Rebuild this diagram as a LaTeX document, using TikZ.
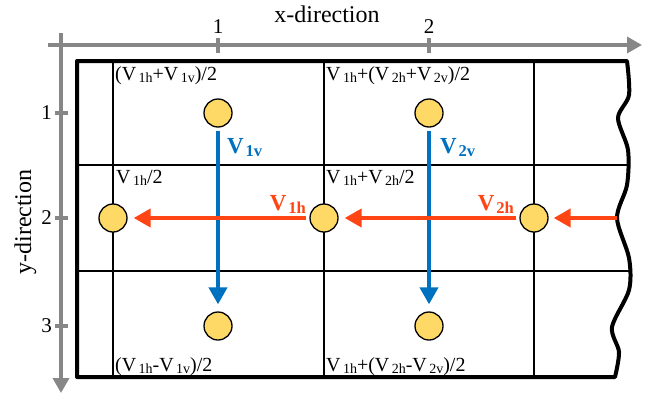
\documentclass[tikz,border=0pt]{standalone}
\usepackage{fontspec}
\setmainfont{Liberation Serif}
\usetikzlibrary{arrows.meta}
\definecolor{dotyellow}{RGB}{255,217,102}
\definecolor{vblue}{RGB}{0,112,192}
\definecolor{hred}{RGB}{255,69,20}
\definecolor{axisgray}{RGB}{135,135,135}
\newcommand{\sbs}[1]{\kern.12em\raisebox{-.25ex}{\scalebox{.7}{#1}}}
\newcommand{\bsbs}[1]{\kern.08em\raisebox{-.3ex}{\scalebox{.72}{#1}}}

\begin{document}
\begin{tikzpicture}[x=1pt,y=-1pt,
    dot/.style={circle,draw,line width=1.3pt,fill=dotyellow,minimum size=28pt,inner sep=0pt},
    gridline/.style={line width=1.8pt},
    frame/.style={line width=4pt,line join=round},
    axis/.style={line width=3.5pt,draw=axisgray,-{Triangle[length=15pt,width=16pt]}},
    tickmark/.style={line width=3.5pt,draw=axisgray},
    varr/.style={line width=4pt,draw=vblue,-{Triangle[length=17pt,width=18pt]}},
    harr/.style={line width=4pt,draw=hred,-{Triangle[length=17pt,width=18pt]}},
    lbl/.style={anchor=base west,inner sep=0pt,font=\fontsize{20}{24}\selectfont},
    vlbl/.style={anchor=base west,inner sep=0pt,text=vblue,font=\fontsize{23}{27}\selectfont\bfseries},
    hlbl/.style={anchor=base east,inner sep=0pt,text=hred,font=\fontsize{23}{27}\selectfont\bfseries},
    num/.style={inner sep=0pt,font=\fontsize{21}{25}\selectfont}
  ]
    \useasboundingbox (0,0) rectangle (652,399);
    % axes
    \draw[axis] (48,45) -- (642,45);
    \draw[axis] (61,33) -- (61,393);
    \node[anchor=base,inner sep=0pt,font=\fontsize{24}{28}\selectfont] (xdir) at (327,22) {x-direction};
    \node[anchor=base,rotate=90,inner sep=0pt,font=\fontsize{24}{28}\selectfont] (ydir) at (31,222) {y-direction};
    \foreach \x/\t in {218/1,429/2} {
      \draw[tickmark] (\x,38) -- (\x,53);
      \node[num,anchor=south] (xt\t) at (\x,34) {\t};
    }
    \foreach \y/\t in {113/1,218/2,326/3} {
      \draw[tickmark] (55,\y) -- (68,\y);
      \node[num,anchor=east] (yt\t) at (52,\y) {\t};
    }
    % grid
    \foreach \x in {113,324,534}
      \draw[gridline] (\x,61) -- (\x,377);
    \draw[gridline] (77,165) -- (628,165);
    \draw[gridline] (77,271) -- (629,271);
    \draw[frame] plot[smooth] coordinates {(627,61) (629,95) (618,118) (628,150) (627,185) (617,218) (629,258) (629,290) (612,327) (619,352) (615,377)}
      -- (77,377) -- (77,61) -- cycle;
    % cell values
    \node[lbl] (t1) at (115,80) {(V\sbs{1h}+V\sbs{1v})/2};
    \node[lbl] (t2) at (326,80) {V\sbs{1h}+(V\sbs{2h}+V\sbs{2v})/2};
    \node[lbl] (m1) at (116,183) {V\sbs{1h}/2};
    \node[lbl] (m2) at (326,183) {V\sbs{1h}+V\sbs{2h}/2};
    \node[lbl] (b1) at (115,371) {(V\sbs{1h}-V\sbs{1v})/2};
    \node[lbl] (b2) at (326,371) {V\sbs{1h}+(V\sbs{2h}-V\sbs{2v})/2};
    % points
    \node[dot] (p11) at (218,113) {};
    \node[dot] (p12) at (429,113) {};
    \node[dot] (p20) at (113,218) {};
    \node[dot] (p21) at (324,218) {};
    \node[dot] (p22) at (534,218) {};
    \node[dot] (p31) at (218,326) {};
    \node[dot] (p32) at (429,326) {};
    \coordinate (edge) at (617,218);
    % flows
    \draw[varr,shorten <=3pt,shorten >=7pt] (p11) -- (p31);
    \draw[varr,shorten <=3pt,shorten >=7pt] (p12) -- (p32);
    \draw[harr,shorten <=3pt,shorten >=6pt] (p21) -- (p20);
    \draw[harr,shorten <=3pt,shorten >=6pt] (p22) -- (p21);
    \draw[harr,shorten >=5pt] (edge) -- (p22);
    \node[vlbl] (v1v) at (227,153) {V\bsbs{1v}};
    \node[vlbl] (v2v) at (440,153) {V\bsbs{2v}};
    \node[hlbl] (v1h) at (306,210) {V\bsbs{1h}};
    \node[hlbl] (v2h) at (514,210) {V\bsbs{2h}};
  \end{tikzpicture}
\end{document}
